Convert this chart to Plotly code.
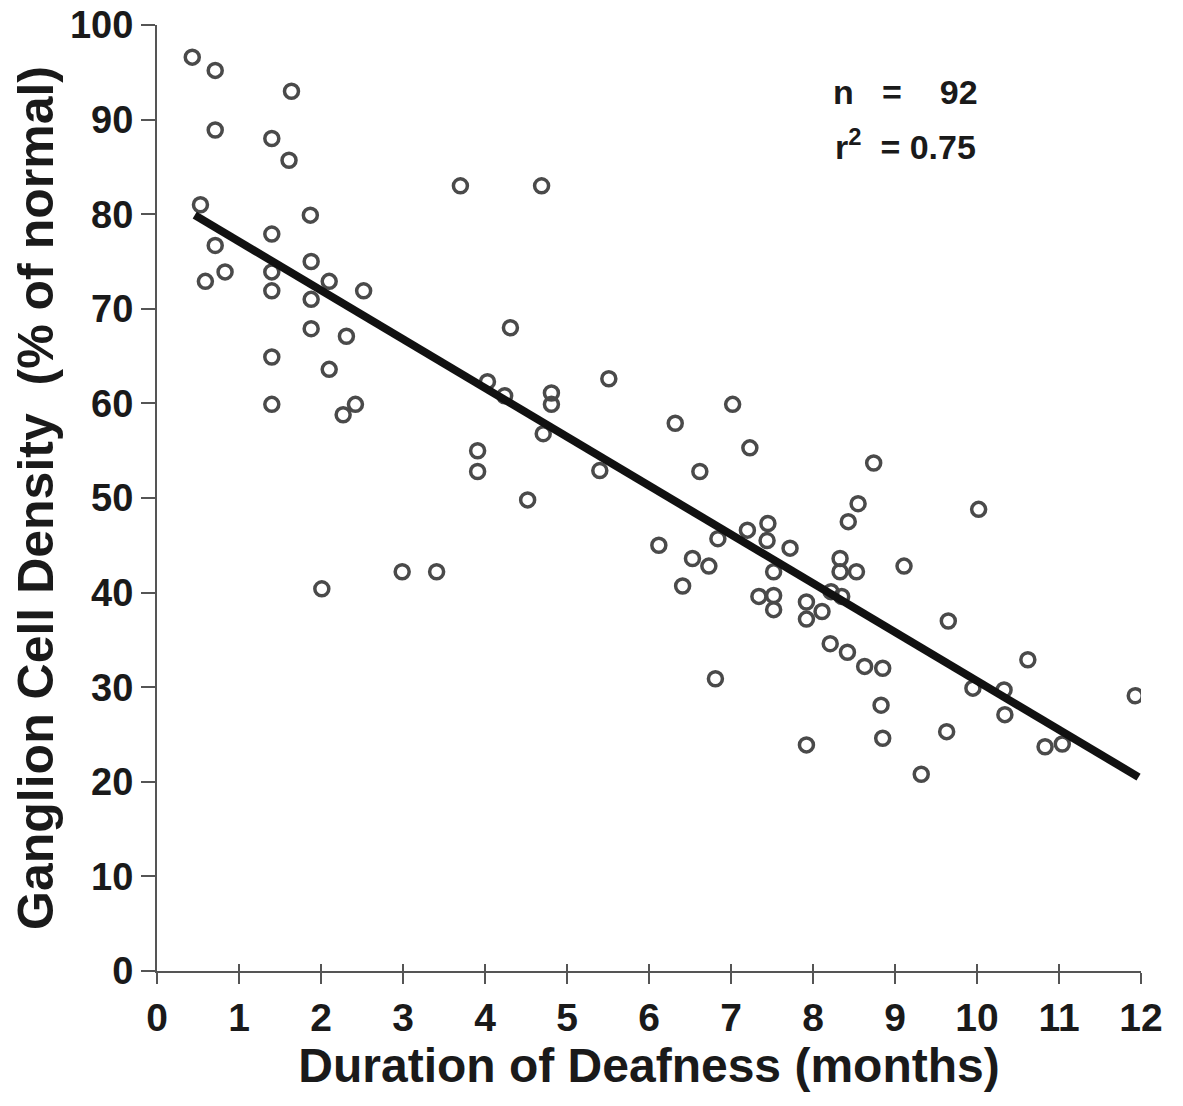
import plotly.graph_objects as go

# Duration of deafness (months) and ganglion cell density (% of normal)
duration = [0.43, 0.71, 1.64, 0.71, 1.40, 1.61, 3.70, 4.69, 0.53, 1.87,
            1.40, 0.71, 1.88, 0.83, 0.59, 1.40, 1.40, 2.10, 1.88, 2.52,
            1.88, 4.31, 2.31, 1.40, 2.10, 1.40, 2.42, 2.27, 4.03, 4.24,
            4.81, 4.81, 5.51, 4.71, 3.91, 3.91, 4.52, 5.40, 2.99, 3.41,
            2.01, 6.32, 7.02, 7.23, 6.62, 6.12, 6.53, 6.73, 6.41, 6.84,
            7.20, 7.45, 7.44, 7.72, 7.52, 7.34, 7.52, 7.52, 6.81, 7.92,
            7.92, 8.11, 8.22, 8.35, 8.33, 8.33, 8.53, 8.43, 8.55, 8.74,
            8.21, 8.42, 8.63, 8.85, 8.83, 8.85, 7.92, 9.11, 9.65, 10.02,
            9.95, 10.33, 10.34, 9.63, 9.32, 10.62, 10.83, 11.04, 11.93]
density = [96.6, 95.2, 93.0, 88.9, 88.0, 85.7, 83.0, 83.0, 81.0, 79.9,
           77.9, 76.7, 75.0, 73.9, 72.9, 73.9, 71.9, 72.9, 71.0, 71.9,
           67.9, 68.0, 67.1, 64.9, 63.6, 59.9, 59.9, 58.8, 62.3, 60.8,
           61.1, 59.9, 62.6, 56.8, 55.0, 52.8, 49.8, 52.9, 42.2, 42.2,
           40.4, 57.9, 59.9, 55.3, 52.8, 45.0, 43.6, 42.8, 40.7, 45.7,
           46.6, 47.3, 45.5, 44.7, 42.2, 39.6, 39.7, 38.2, 30.9, 39.0,
           37.2, 38.0, 40.1, 39.6, 43.6, 42.2, 42.2, 47.5, 49.4, 53.7,
           34.6, 33.7, 32.2, 32.0, 28.1, 24.6, 23.9, 42.8, 37.0, 48.8,
           29.9, 29.7, 27.1, 25.3, 20.8, 32.9, 23.7, 24.0, 29.1]

# Regression line end points
fit_x = [0.46, 11.97]
fit_y = [79.9, 20.5]

x_ticks = list(range(0, 13))
y_ticks = list(range(0, 101, 10))

NB = "\u00a0"
n_text = "n" + NB * 3 + "=" + NB * 4 + "92"
r2_text = "r<sup>2</sup>" + NB * 2 + "=" + NB + "0.75"

FONT = "Liberation Sans"
TXT = "#1a1a1a"
AX = "#555555"

fig = go.Figure()
fig.add_trace(go.Scatter(
    x=duration, y=density, mode="markers",
    marker=dict(symbol="circle-open", size=14, color="#4a4a4a",
                line=dict(width=3.5, color="#4a4a4a")),
    showlegend=False, hoverinfo="skip"))
fig.add_trace(go.Scatter(
    x=fit_x, y=fit_y, mode="lines",
    line=dict(color="#111111", width=8),
    showlegend=False, hoverinfo="skip"))
# invisible trace to carry the inner tick marks of the x axis
fig.add_trace(go.Scatter(
    x=fit_x, y=fit_y, xaxis="x2", mode="lines", opacity=0,
    showlegend=False, hoverinfo="skip"))

fig.update_layout(
    width=1183, height=1106,
    margin=dict(l=149, r=50, t=17, b=143),
    plot_bgcolor="white", paper_bgcolor="white",
    font=dict(family=FONT, color=TXT),
    xaxis=dict(range=[0, 12], tickvals=x_ticks, ticktext=[str(v) for v in x_ticks],
               automargin=False, ticklabeloverflow="allow",
               showgrid=False, zeroline=False, showline=True, linecolor=AX,
               linewidth=2, ticks="outside", ticklen=11, tickwidth=1.5, tickcolor=AX,
               tickfont=dict(size=39, family=FONT, color=TXT, weight="bold"),
               title=dict(text="Duration of Deafness (months)",
                          font=dict(size=48, family=FONT, color=TXT, weight="bold"),
                          standoff=10)),
    xaxis2=dict(range=[0, 12], tickvals=x_ticks, overlaying="x", anchor="y", side="bottom",
                automargin=False, showticklabels=False, showgrid=False, zeroline=False,
                showline=False, ticks="inside", ticklen=7, tickwidth=1.5, tickcolor=AX),
    yaxis=dict(range=[0, 100], tickvals=y_ticks, ticktext=[str(v) for v in y_ticks],
               automargin=False, ticklabeloverflow="allow",
               showgrid=False, zeroline=False, showline=True, linecolor=AX,
               linewidth=2, ticks="outside", ticklen=14, tickwidth=1.5, tickcolor=AX,
               tickfont=dict(size=38, family=FONT, color=TXT, weight="bold"),
               title=dict(text="Ganglion Cell Density  (% of normal)",
                          font=dict(size=50, family=FONT, color=TXT, weight="bold"),
                          standoff=8)),
)

fig.add_annotation(x=8.22, y=92.9, xref="x", yref="y", text=n_text, showarrow=False,
                   xanchor="left", yanchor="middle",
                   font=dict(size=34, family=FONT, color=TXT, weight="bold"))
fig.add_annotation(x=8.24, y=87.4, xref="x", yref="y", text=r2_text, showarrow=False,
                   xanchor="left", yanchor="middle",
                   font=dict(size=34, family=FONT, color=TXT, weight="bold"))

fig.write_html("out.html")
